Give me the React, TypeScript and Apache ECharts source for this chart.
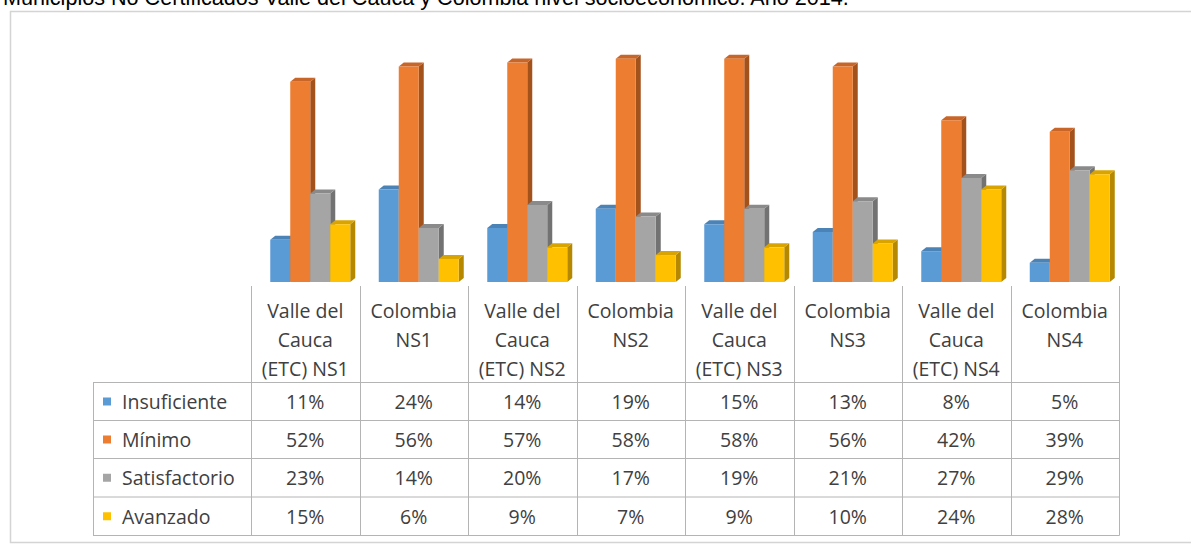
import React, { useEffect, useRef } from "react";
import * as echarts from "echarts";

const categories = [
  "Valle del\nCauca\n(ETC) NS1",
  "Colombia\nNS1",
  "Valle del\nCauca\n(ETC) NS2",
  "Colombia\nNS2",
  "Valle del\nCauca\n(ETC) NS3",
  "Colombia\nNS3",
  "Valle del\nCauca\n(ETC) NS4",
  "Colombia\nNS4",
];
const seriesNames = ["Insuficiente", "Mínimo", "Satisfactorio", "Avanzado"];
const insuficiente = [11, 24, 14, 19, 15, 13, 8, 5];
const minimo = [52, 56, 57, 58, 58, 56, 42, 39];
const satisfactorio = [23, 14, 20, 17, 19, 21, 27, 29];
const avanzado = [15, 6, 9, 7, 9, 10, 24, 28];
const seriesValues = [insuficiente, minimo, satisfactorio, avanzado];

const titleText = "Municipios No Certificados Valle del Cauca y Colombia nivel socioeconómico. Año 2014.";

const frontColors = ["#5B9BD5", "#ED7D31", "#A5A5A5", "#FFC000"];
const sideColors = ["#3E6E9B", "#A4521C", "#727272", "#B58800"];
const topColors = ["#4C83B6", "#C8662A", "#8A8A8A", "#D9A400"];

const GRID_LEFT = 251;
const COL_W = 108.5;
const GRID_TOP = 51;
const GRID_H = 231;
const TABLE_LEFT = 93;
const HEADER_TOP = 286;
const ROW_Y = [382.5, 420.5, 458.5, 497, 535.5];
const FONT = '19.5px "Open Sans", sans-serif';
const TXT = "#404040";
const LINE = "#b4b4b4";

export default function App() {
  const ref = useRef<HTMLDivElement>(null);
  useEffect(() => {
    if (!ref.current) return;
    const chart = echarts.init(ref.current, undefined, { renderer: "svg" });
    const n = categories.length;
    const tableRight = GRID_LEFT + COL_W * n;
    const graphic: any[] = [];
    graphic.push({
      type: "rect",
      shape: { x: 10.5, y: 11.5, width: 1195, height: 531 },
      style: { fill: "none", stroke: "#d4d4d4", lineWidth: 1.5 },
      silent: true,
    });
    graphic.push({
      type: "text",
      x: 3,
      y: -2.6,
      style: { text: titleText, font: '21.6px "Liberation Sans", Arial, sans-serif', fill: "#000", align: "left", verticalAlign: "middle" },
    });
    for (let k = 0; k <= n; k++) {
      const x = Math.round(GRID_LEFT + COL_W * k) + 0.5;
      graphic.push({ type: "line", shape: { x1: x, y1: HEADER_TOP, x2: x, y2: ROW_Y[4] }, style: { stroke: LINE, lineWidth: 1 } });
    }
    graphic.push({ type: "line", shape: { x1: TABLE_LEFT + 0.5, y1: ROW_Y[0], x2: TABLE_LEFT + 0.5, y2: ROW_Y[4] }, style: { stroke: LINE, lineWidth: 1 } });
    ROW_Y.forEach((y) => {
      graphic.push({ type: "line", shape: { x1: TABLE_LEFT, y1: y, x2: tableRight + 0.5, y2: y }, style: { stroke: LINE, lineWidth: 1 } });
    });
    categories.forEach((c, i) => {
      graphic.push({
        type: "text",
        x: GRID_LEFT + COL_W * i + COL_W / 2,
        y: 295.5,
        style: { text: c, font: FONT, fill: TXT, align: "center", verticalAlign: "top", lineHeight: 29 },
      });
    });
    seriesNames.forEach((name, r) => {
      const cy = (ROW_Y[r] + ROW_Y[r + 1]) / 2;
      graphic.push({ type: "rect", shape: { x: 103, y: cy - 4, width: 8, height: 8 }, style: { fill: frontColors[r] } });
      graphic.push({
        type: "text",
        x: 122,
        y: cy,
        style: { text: name, font: FONT, fill: TXT, align: "left", verticalAlign: "middle" },
      });
      seriesValues[r].forEach((v, i) => {
        graphic.push({
          type: "text",
          x: GRID_LEFT + COL_W * i + COL_W / 2,
          y: cy,
          style: { text: v + "%", font: FONT, fill: TXT, align: "center", verticalAlign: "middle" },
        });
      });
    });

    const series = seriesValues.map((vals, si) => ({
      type: "custom",
      name: seriesNames[si],
      data: vals.map((v, i) => [i, v]),
      encode: { x: 0, y: 1 },
      renderItem: (params: any, api: any) => {
        const idx = api.value(0);
        const v = api.value(1);
        const p = api.coord([idx, v]);
        const p0 = api.coord([idx, 0]);
        const band = api.size([1, 0])[0];
        const w = (band * 20) / COL_W;
        const x = p[0] - (band * 35) / COL_W + si * w;
        const y = p[1];
        const yb = p0[1];
        const dx = 5;
        const dy = -4;
        return {
          type: "group",
          children: [
            { type: "polygon", shape: { points: [[x + w, y], [x + w + dx, y + dy], [x + w + dx, yb + dy], [x + w, yb]] }, style: { fill: sideColors[si] } },
            { type: "polygon", shape: { points: [[x, y], [x + dx, y + dy], [x + w + dx, y + dy], [x + w, y]] }, style: { fill: topColors[si] } },
            { type: "rect", shape: { x, y, width: w, height: yb - y }, style: { fill: frontColors[si] } },
          ],
        };
      },
    }));

    chart.setOption({
      animation: false,
      backgroundColor: "#ffffff",
      grid: { left: GRID_LEFT, top: GRID_TOP, width: COL_W * n, height: GRID_H },
      xAxis: { type: "category", data: categories, show: false },
      yAxis: { type: "value", min: 0, max: 60, show: false },
      series,
      graphic,
    });
    return () => chart.dispose();
  }, []);
  return <div ref={ref} style={{ position: "fixed", left: 0, top: 0, width: 1191, height: 546 }} />;
}
